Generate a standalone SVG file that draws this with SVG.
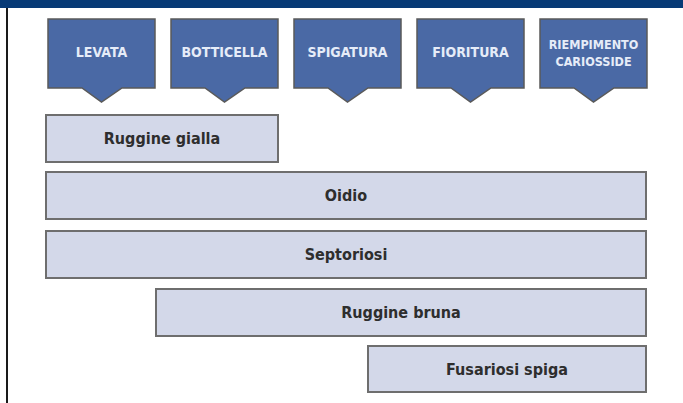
<svg xmlns="http://www.w3.org/2000/svg" width="683" height="403" viewBox="0 0 683 403">
  <style>
    .stage { fill: #4a69a5; stroke: #5a5a5a; stroke-width: 1.5; stroke-linejoin: miter; }
    .stage-text { font-family: "DejaVu Sans Condensed", "DejaVu Sans", sans-serif; font-stretch: condensed; font-weight: bold; font-size: 14px; fill: #e6ecf8; text-anchor: middle; dominant-baseline: central; }
    .stage-text.small { font-size: 12.5px; }
    .bar { fill: #d3d8e9; stroke: #6e6e6e; stroke-width: 2; }
    .bar-text { font-family: "DejaVu Sans Condensed", "DejaVu Sans", sans-serif; font-stretch: condensed; font-weight: bold; font-size: 16px; fill: #2e2e2e; text-anchor: middle; dominant-baseline: central; }
  </style>
  <rect x="0" y="0" width="683" height="403" fill="#ffffff"/>
  <rect x="0" y="0" width="683" height="8" fill="#073a76"/>
  <rect x="6" y="8" width="2" height="395" fill="#1a1a1a"/>

  <g id="stage-levata">
    <path class="stage" d="M48,19 H155 V88 H122 L101.5,102 L82,88 H48 Z"/>
    <text class="stage-text" x="101.5" y="52">LEVATA</text>
  </g>
  <g id="stage-botticella">
    <path class="stage" d="M171,19 H278 V88 H245 L224.5,102 L205,88 H171 Z"/>
    <text class="stage-text" x="224.5" y="52">BOTTICELLA</text>
  </g>
  <g id="stage-spigatura">
    <path class="stage" d="M294,19 H401 V88 H368 L347.5,102 L328,88 H294 Z"/>
    <text class="stage-text" x="347.5" y="52">SPIGATURA</text>
  </g>
  <g id="stage-fioritura">
    <path class="stage" d="M417,19 H524 V88 H491 L470.5,102 L451,88 H417 Z"/>
    <text class="stage-text" x="470.5" y="52">FIORITURA</text>
  </g>
  <g id="stage-riempimento">
    <path class="stage" d="M540,19 H647 V88 H614 L593.5,102 L574,88 H540 Z"/>
    <text class="stage-text small" x="593.5" y="44">RIEMPIMENTO</text>
    <text class="stage-text small" x="593.5" y="61">CARIOSSIDE</text>
  </g>

  <g id="bar-ruggine-gialla">
    <rect class="bar" x="46" y="115" width="232" height="47"/>
    <text class="bar-text" x="162" y="138.5">Ruggine gialla</text>
  </g>
  <g id="bar-oidio">
    <rect class="bar" x="46" y="172" width="600" height="47"/>
    <text class="bar-text" x="346" y="195.5">Oidio</text>
  </g>
  <g id="bar-septoriosi">
    <rect class="bar" x="46" y="231" width="600" height="47"/>
    <text class="bar-text" x="346" y="254.5">Septoriosi</text>
  </g>
  <g id="bar-ruggine-bruna">
    <rect class="bar" x="156" y="289" width="490" height="47"/>
    <text class="bar-text" x="401" y="312.5">Ruggine bruna</text>
  </g>
  <g id="bar-fusariosi-spiga">
    <rect class="bar" x="368" y="346" width="278" height="46"/>
    <text class="bar-text" x="507" y="369">Fusariosi spiga</text>
  </g>

  <g id="connectors"/>
</svg>
